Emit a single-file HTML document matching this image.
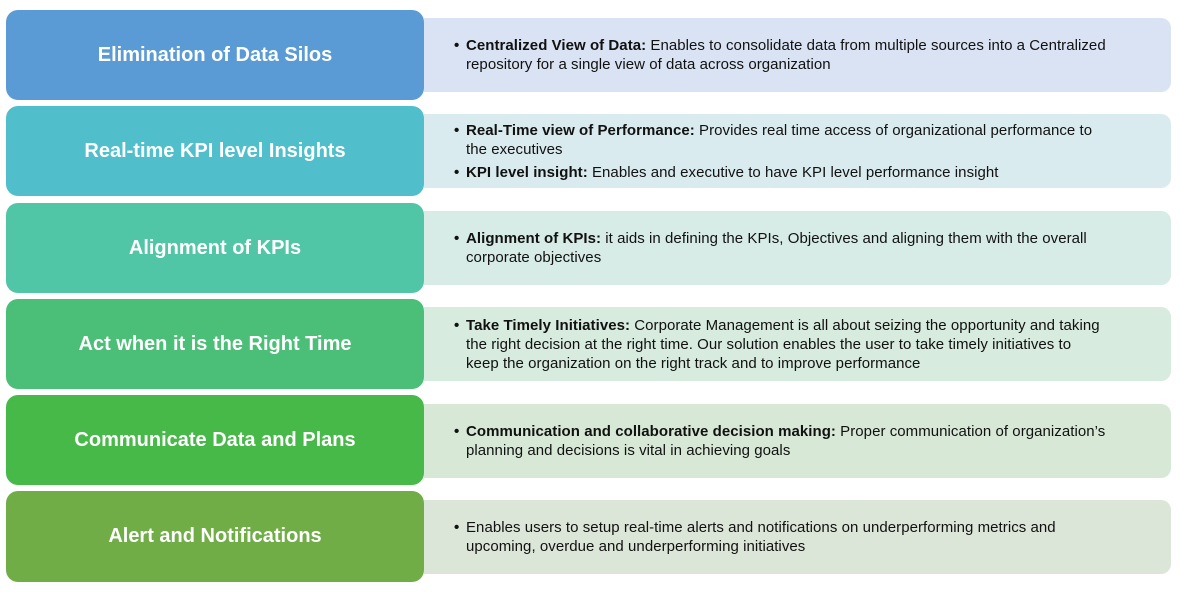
<!DOCTYPE html>
<html><head><meta charset="utf-8"><style>
body{margin:0;width:1181px;height:592px;background:#fff;position:relative;font-family:"Liberation Sans",sans-serif;overflow:hidden}
.l{position:absolute;left:6px;width:418px;border-radius:12px;color:#fff;font-weight:bold;font-size:20px;display:flex;align-items:center;justify-content:center}
.r{position:absolute;left:424px;width:747px;height:74px;border-radius:0 10px 10px 0;font-size:15px;color:#111;letter-spacing:0.05px;line-height:19px;display:flex;flex-direction:column;justify-content:center}
.r div{position:relative;padding-left:42px;white-space:nowrap}
.r div:before{content:"•";position:absolute;left:30px;font-weight:bold}
.r div.g{margin-top:4px}
</style></head><body>
<div class="l" style="top:10px;height:90px;background:#5B9BD5">Elimination of Data Silos</div>
<div class="r" style="top:18px;background:#DAE3F3"><div><b>Centralized View of Data:</b> Enables to consolidate data from multiple sources into a Centralized<br>repository for a single view of data across organization</div></div>

<div class="l" style="top:106px;height:90px;background:#50BFCB">Real-time KPI level Insights</div>
<div class="r" style="top:114px;background:#DAEBEF"><div><b>Real-Time view of Performance:</b> Provides real time access of organizational performance to<br>the executives</div><div class="g"><b>KPI level insight:</b> Enables and executive to have KPI level performance insight</div></div>

<div class="l" style="top:203px;height:90px;background:#50C6A6">Alignment of KPIs</div>
<div class="r" style="top:211px;background:#D8ECE7"><div><b>Alignment of KPIs:</b> it aids in defining the KPIs, Objectives and aligning them with the overall<br>corporate objectives</div></div>

<div class="l" style="top:299px;height:90px;background:#4BBF77">Act when it is the Right Time</div>
<div class="r" style="top:307px;background:#D7EBDF"><div><b>Take Timely Initiatives:</b> Corporate Management is all about seizing the opportunity and taking<br>the right decision at the right time. Our solution enables the user to take timely initiatives to<br>keep the organization on the right track and to improve performance</div></div>

<div class="l" style="top:395px;height:90px;background:#47B948">Communicate Data and Plans</div>
<div class="r" style="top:404px;background:#D7E9D6"><div><b>Communication and collaborative decision making:</b> Proper communication of organization’s<br>planning and decisions is vital in achieving goals</div></div>

<div class="l" style="top:491px;height:91px;background:#70AD47">Alert and Notifications</div>
<div class="r" style="top:500px;background:#DCE6D8"><div>Enables users to setup real-time alerts and notifications on underperforming metrics and<br>upcoming, overdue and underperforming initiatives</div></div>
</body></html>
